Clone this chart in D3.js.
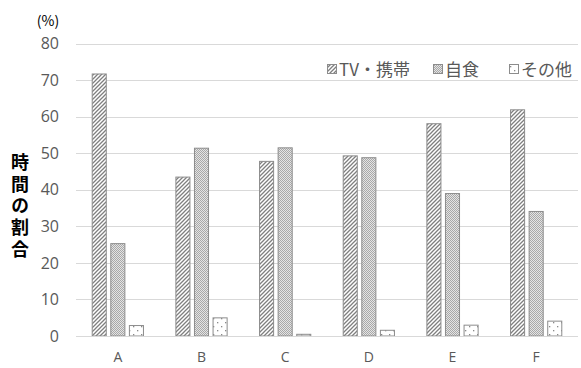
<!DOCTYPE html>
<html>
<head>
<meta charset="utf-8">
<script src="https://cdn.jsdelivr.net/npm/d3@7/dist/d3.min.js"></script>
<style>
  html, body { margin: 0; padding: 0; background: #fff; }
  svg { display: block; }
  text { font-family: "Noto Sans CJK JP", "Open Sans", sans-serif; }
</style>
</head>
<body>
<svg id="chart" width="581" height="368"></svg>
<script>
// Categories and series values (%)
const categories = ["A", "B", "C", "D", "E", "F"];
const seriesNames = ["TV・携帯", "自食", "その他"];
const tvValues    = [71.8, 43.6, 47.9, 49.4, 58.2, 62.0];
const selfValues  = [25.4, 51.5, 51.6, 48.9, 39.1, 34.2];
const otherValues = [3.0, 5.1, 0.6, 1.7, 3.1, 4.2];
const yTicks = [0, 10, 20, 30, 40, 50, 60, 70, 80];

const seriesValues = [tvValues, selfValues, otherValues];
const patternIds = ["pat-diag", "pat-dots", "pat-sparse"];

const svg = d3.select("#chart");
const margin = { left: 76, right: 3, top: 43.5, bottom: 32 };
const W = 581, H = 368;

const x = d3.scaleBand().domain(categories).range([margin.left, W - margin.right]).padding(0);
const xs = d3.scaleBand().domain(seriesNames).range([0, x.bandwidth()])
  .paddingInner(0.19).paddingOuter(0.845);
const y = d3.scaleLinear().domain([0, 80]).range([H - margin.bottom, margin.top]);

// Fill patterns
const defs = svg.append("defs");
const p1 = defs.append("pattern").attr("id", "pat-diag").attr("patternUnits", "userSpaceOnUse")
  .attr("width", 4).attr("height", 4);
p1.append("rect").attr("width", 4).attr("height", 4).attr("fill", "#fff");
p1.append("path").attr("d", "M-1,1 l2,-2 M0,4 l4,-4 M3,5 l2,-2")
  .attr("stroke", "#7f7f7f").attr("stroke-width", 1.3);

const p2 = defs.append("pattern").attr("id", "pat-dots").attr("patternUnits", "userSpaceOnUse")
  .attr("width", 2).attr("height", 2);
p2.append("rect").attr("width", 2).attr("height", 2).attr("fill", "#e4e4e4");
p2.append("rect").attr("width", 1).attr("height", 1).attr("fill", "#a8a8a8");
p2.append("rect").attr("x", 1).attr("y", 1).attr("width", 1).attr("height", 1).attr("fill", "#a8a8a8");

const p3 = defs.append("pattern").attr("id", "pat-sparse").attr("patternUnits", "userSpaceOnUse")
  .attr("width", 8).attr("height", 8);
p3.append("rect").attr("width", 8).attr("height", 8).attr("fill", "#fff");
p3.append("rect").attr("x", 1).attr("y", 2).attr("width", 1.3).attr("height", 1.3).attr("fill", "#8a8a8a");
p3.append("rect").attr("x", 5).attr("y", 6).attr("width", 1.3).attr("height", 1.3).attr("fill", "#8a8a8a");

// Gridlines
svg.append("g").selectAll("line").data(yTicks.filter(d => d > 0)).join("line")
  .attr("x1", margin.left).attr("x2", W - margin.right)
  .attr("y1", d => Math.round(y(d)) + 0.5).attr("y2", d => Math.round(y(d)) + 0.5)
  .attr("stroke", "#d9d9d9").attr("stroke-width", 1);

// Y axis tick labels
const yAxis = d3.axisLeft(y).tickValues(yTicks).tickSize(0).tickPadding(0);
const gy = svg.append("g").attr("transform", `translate(${margin.left - 17},0)`).call(yAxis);
gy.select(".domain").remove();
gy.selectAll("text").attr("fill", "#595959").attr("font-size", 16)
  .style("font-family", "'Open Sans', sans-serif");

// Bars
const groups = svg.append("g").selectAll("g").data(seriesNames).join("g");
groups.each(function(name, si) {
  d3.select(this).selectAll("rect").data(seriesValues[si]).join("rect")
    .attr("x", (d, i) => x(categories[i]) + xs(name) + 0.5)
    .attr("width", xs.bandwidth() - 1)
    .attr("y", d => y(d) + 0.5)
    .attr("height", d => Math.max(0, y(0) - y(d) - 0.5))
    .attr("fill", `url(#${patternIds[si]})`)
    .attr("stroke", "#8c8c8c").attr("stroke-width", 1);
});

// X axis baseline and category labels
svg.append("line")
  .attr("x1", margin.left).attr("x2", W - margin.right)
  .attr("y1", Math.round(y(0)) + 0.5).attr("y2", Math.round(y(0)) + 0.5)
  .attr("stroke", "#d9d9d9").attr("stroke-width", 1.2);
const xAxis = d3.axisBottom(x).tickSize(0).tickPadding(0);
const gx = svg.append("g").attr("transform", `translate(0,${y(0) + 16})`).call(xAxis);
gx.select(".domain").remove();
gx.selectAll("text").attr("fill", "#595959").attr("font-size", 14)
  .style("font-family", "'Open Sans', sans-serif");

// Unit label
svg.append("text").attr("x", 48).attr("y", 26).attr("text-anchor", "middle")
  .attr("font-size", 14).attr("fill", "#000").text("(%)");

// Vertical axis title, set in vertical writing mode
svg.append("text")
  .attr("x", 20).attr("y", 153)
  .style("writing-mode", "vertical-rl")
  .style("letter-spacing", "3.8px")
  .attr("font-size", 18).attr("font-weight", "bold")
  .attr("fill", "#000").text("時間の割合");

// Legend
const legendX = [327, 433, 509];
const legend = svg.append("g").selectAll("g").data(seriesNames).join("g")
  .attr("transform", (d, i) => `translate(${legendX[i]},64)`);
legend.append("rect").attr("x", 0.5).attr("y", 0.5).attr("width", 9).attr("height", 9)
  .attr("fill", (d, i) => `url(#${patternIds[i]})`).attr("stroke", "#8c8c8c");
legend.append("text").attr("x", 12).attr("y", 11.5).attr("font-size", 17)
  .attr("fill", "#595959").text(d => d);
</script>
</body>
</html>
